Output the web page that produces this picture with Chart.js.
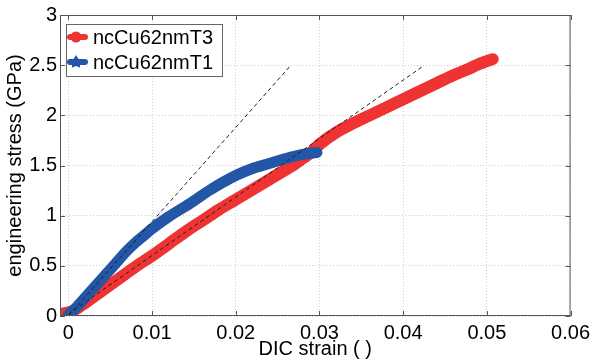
<!DOCTYPE html>
<html>
<head>
<meta charset="utf-8">
<script src="https://cdn.jsdelivr.net/npm/chart.js@4"></script>
<style>
  body { margin: 0; background: #fff; }
  canvas { display: block; }
</style>
</head>
<body>
<canvas id="stressChart" width="595" height="361"></canvas>
<script>
// strain / stress readings (GPa) for the two samples
const t3Strain = [-0.0009, 0.0005, 0.002, 0.004, 0.006, 0.008, 0.010, 0.012, 0.014, 0.016, 0.018, 0.020, 0.022, 0.024, 0.026, 0.027, 0.028, 0.029, 0.030, 0.032, 0.034, 0.036, 0.038, 0.040, 0.042, 0.044, 0.046, 0.048, 0.049, 0.050, 0.0507];
const t3Stress = [0.02, 0.05, 0.13, 0.25, 0.37, 0.49, 0.60, 0.72, 0.84, 0.95, 1.06, 1.16, 1.26, 1.36, 1.46, 1.51, 1.57, 1.63, 1.71, 1.83, 1.92, 2.00, 2.08, 2.16, 2.24, 2.32, 2.40, 2.47, 2.51, 2.54, 2.56];

const t1Strain = [0, 0.001, 0.0025, 0.004, 0.0055, 0.007, 0.008, 0.009, 0.010, 0.012, 0.0145, 0.017, 0.020, 0.022, 0.024, 0.026, 0.028, 0.0297];
const t1Stress = [0.01, 0.09, 0.23, 0.37, 0.51, 0.65, 0.73, 0.80, 0.87, 0.99, 1.12, 1.26, 1.40, 1.47, 1.52, 1.57, 1.61, 1.63];

// elastic fit lines (dashed)
const fit1Strain = [0, 0.0266];
const fit1Stress = [0, 2.5];
const fit2Strain = [0, 0.0423];
const fit2Stress = [0.02, 2.485];

const xTicks = [0, 0.01, 0.02, 0.03, 0.04, 0.05, 0.06];
const yTicks = [0, 0.5, 1, 1.5, 2, 2.5, 3];

const seriesLabels = ["ncCu62nmT3", "ncCu62nmT1"];
const RED = "#ef3232";
const BLUE = "#2356a6";
const FONT = "'Liberation Sans', Arial, sans-serif";

const toPoints = (xs, ys) => xs.map((x, i) => ({ x: x, y: ys[i] }));

// box + inward tick marks, MATLAB style
const boxPlugin = {
  id: "box",
  afterDraw(chart) {
    const { ctx, chartArea: a, scales } = chart;
    ctx.save();
    ctx.strokeStyle = "#555";
    ctx.lineWidth = 1;
    ctx.strokeRect(a.left + 0.5, a.top + 0.5, a.right - a.left - 1, a.bottom - a.top - 1);
    ctx.beginPath();
    xTicks.forEach((v) => {
      const px = Math.round(scales.x.getPixelForValue(v)) + 0.5;
      ctx.moveTo(px, a.bottom);
      ctx.lineTo(px, a.bottom - 5);
      ctx.moveTo(px, a.top);
      ctx.lineTo(px, a.top + 5);
    });
    yTicks.forEach((v) => {
      const py = Math.round(scales.y.getPixelForValue(v)) + 0.5;
      ctx.moveTo(a.left, py);
      ctx.lineTo(a.left + 5, py);
      ctx.moveTo(a.right, py);
      ctx.lineTo(a.right - 5, py);
    });
    ctx.stroke();

    // legend box
    const lx = 66, ly = 24, lw = 156, lh = 52;
    ctx.fillStyle = "#fff";
    ctx.fillRect(lx, ly, lw, lh);
    ctx.strokeStyle = "#666";
    ctx.strokeRect(lx + 0.5, ly + 0.5, lw, lh);
    const rows = [
      { label: seriesLabels[0], color: RED, y: 37 },
      { label: seriesLabels[1], color: BLUE, y: 62 },
    ];
    rows.forEach((r, i) => {
      ctx.strokeStyle = r.color;
      ctx.fillStyle = r.color;
      ctx.lineWidth = 6;
      ctx.lineCap = "round";
      ctx.beginPath();
      ctx.moveTo(70, r.y);
      ctx.lineTo(85, r.y);
      ctx.stroke();
      ctx.beginPath();
      if (i === 0) {
        ctx.arc(76, r.y, 5.5, 0, Math.PI * 2);
      } else {
        for (let k = 0; k < 10; k++) {
          const ang = -Math.PI / 2 + (k * Math.PI) / 5;
          const rad = k % 2 === 0 ? 7 : 4;
          ctx.lineTo(76 + rad * Math.cos(ang), r.y + rad * Math.sin(ang));
        }
        ctx.closePath();
      }
      ctx.fill();
      ctx.fillStyle = "#000";
      ctx.font = "20px " + FONT;
      ctx.textBaseline = "middle";
      ctx.textAlign = "left";
      ctx.fillText(r.label, 93, r.y + 1);
    });
    ctx.restore();
  },
};

const ctx = document.getElementById("stressChart").getContext("2d");

new Chart(ctx, {
  type: "scatter",
  data: {
    datasets: [
      {
        label: seriesLabels[0],
        data: toPoints(t3Strain, t3Stress),
        showLine: true,
        borderColor: RED,
        backgroundColor: RED,
        borderWidth: 12,
        borderCapStyle: "round",
        borderJoinStyle: "round",
        cubicInterpolationMode: "monotone",
        pointRadius: 0,
        order: 2,
      },
      {
        label: seriesLabels[1],
        data: toPoints(t1Strain, t1Stress),
        showLine: true,
        borderColor: BLUE,
        backgroundColor: BLUE,
        borderWidth: 11,
        borderCapStyle: "round",
        borderJoinStyle: "round",
        cubicInterpolationMode: "monotone",
        pointRadius: 0,
        order: 1,
      },
      {
        label: "fit1",
        data: toPoints(fit1Strain, fit1Stress),
        showLine: true,
        borderColor: "#222",
        borderWidth: 1,
        borderDash: [4, 3],
        pointRadius: 0,
        order: 0,
      },
      {
        label: "fit2",
        data: toPoints(fit2Strain, fit2Stress),
        showLine: true,
        borderColor: "#222",
        borderWidth: 1,
        borderDash: [4, 3],
        pointRadius: 0,
        order: 0,
      },
    ],
  },
  options: {
    responsive: false,
    animation: false,
    layout: { padding: { top: 15, right: 22, left: 0, bottom: 0 } },
    plugins: {
      legend: { display: false },
      tooltip: { enabled: false },
    },
    scales: {
      x: {
        type: "linear",
        min: -0.001,
        max: 0.06,
        afterBuildTicks: (s) => {
          s.ticks = xTicks.map((v) => ({ value: v }));
        },
        afterFit: (s) => {
          s.height = 45;
        },
        grid: { color: "#cfcfcf", drawTicks: false },
        border: { display: false, dash: [1, 2] },
        ticks: {
          color: "#000",
          font: { family: FONT, size: 20 },
          padding: 5,
          maxRotation: 0,
          callback: (v) => (v === 0 ? "0" : v.toFixed(2)),
        },
        title: {
          display: true,
          text: "DIC strain ( )",
          color: "#000",
          font: { family: FONT, size: 20 },
          padding: { top: 0, bottom: 0 },
        },
      },
      y: {
        type: "linear",
        min: 0,
        max: 3,
        afterBuildTicks: (s) => {
          s.ticks = yTicks.map((v) => ({ value: v }));
        },
        afterFit: (s) => {
          s.width = 60;
        },
        grid: { color: "#cfcfcf", drawTicks: false },
        border: { display: false, dash: [1, 2] },
        ticks: {
          color: "#000",
          font: { family: FONT, size: 20 },
          padding: 3,
          callback: (v) => String(v),
        },
        title: {
          display: true,
          text: "engineering stress (GPa)",
          color: "#000",
          font: { family: FONT, size: 20 },
          padding: { top: 3, bottom: 0 },
        },
      },
    },
  },
  plugins: [boxPlugin],
});
</script>
</body>
</html>
